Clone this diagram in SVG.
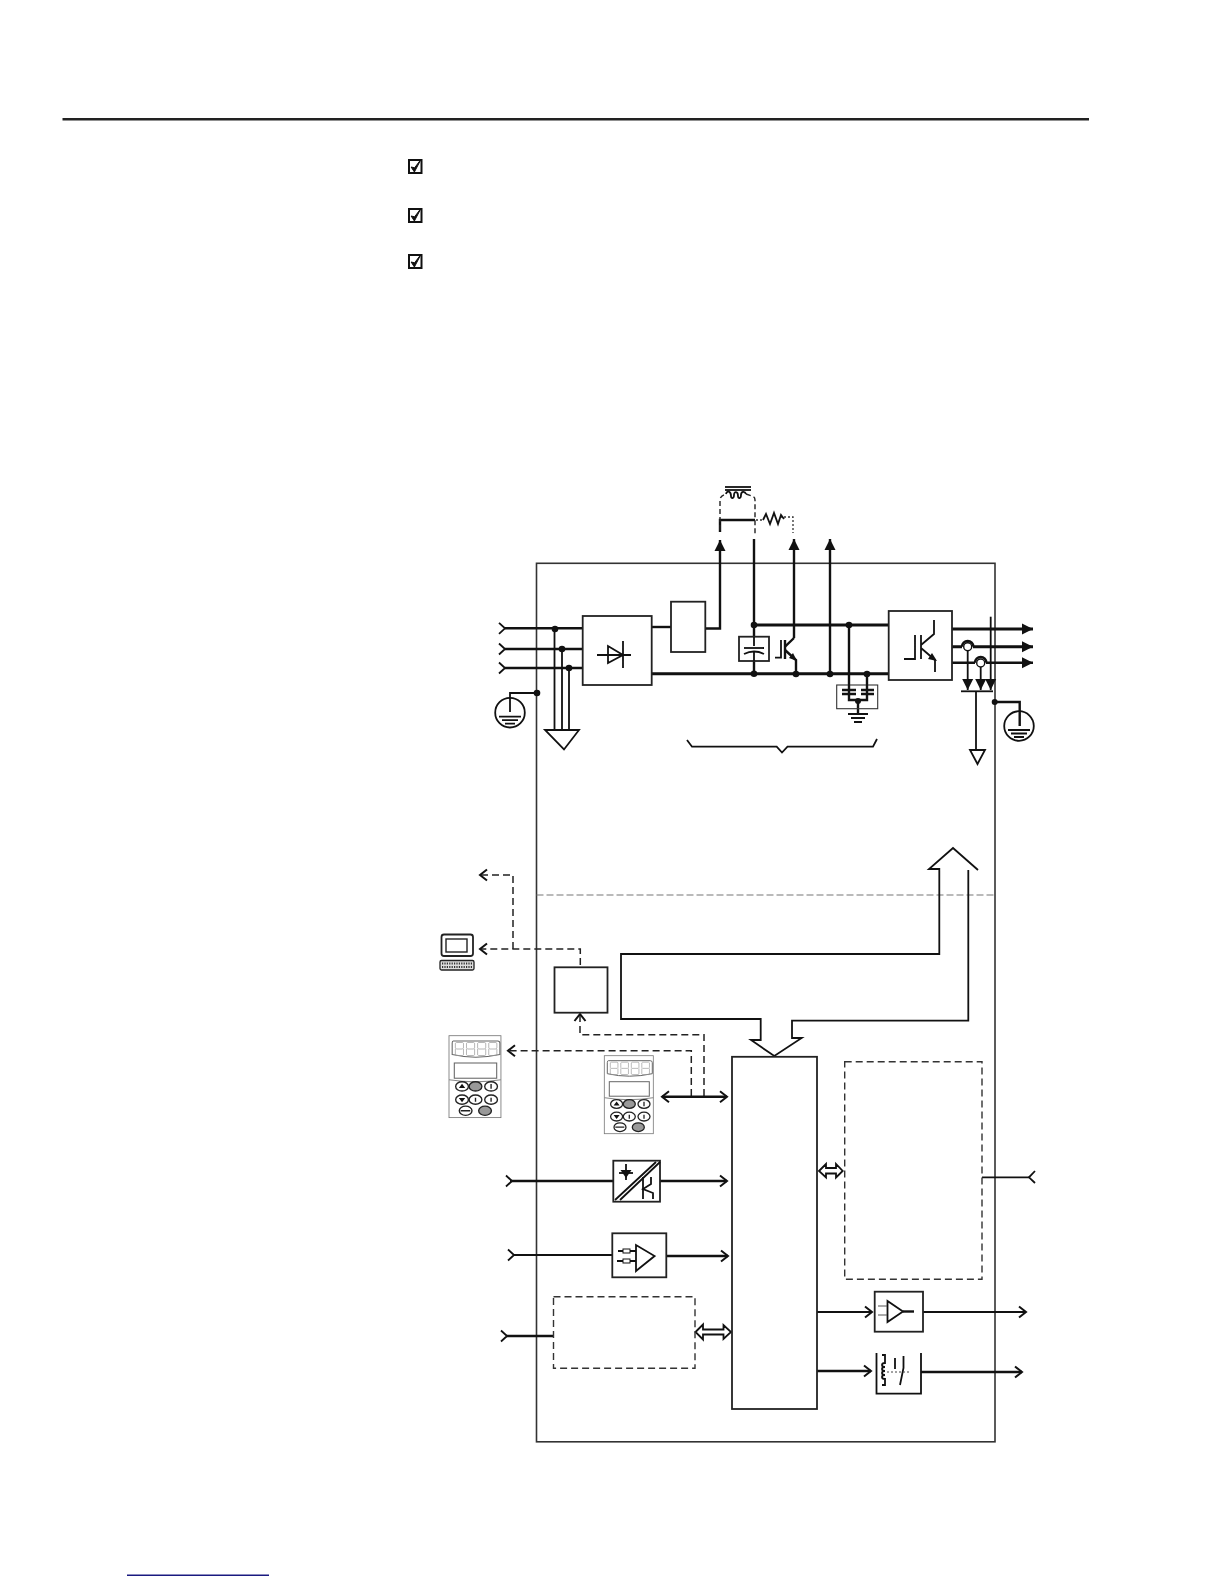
<svg xmlns="http://www.w3.org/2000/svg" xmlns:xlink="http://www.w3.org/1999/xlink" width="1224" height="1584" viewBox="0 0 1224 1584">
<style>
.l{fill:none;stroke:#111;stroke-width:1.8}
.t{fill:none;stroke:#111;stroke-width:2.4}
.h{fill:none;stroke:#111;stroke-width:3}
.b{fill:#fff;stroke:#222;stroke-width:1.8}
.d{fill:none;stroke:#222;stroke-width:1.5;stroke-dasharray:7 4}
.f{fill:#111;stroke:none}
.hollow{fill:#fff;stroke:#111;stroke-width:1.8}
</style>
<defs>
<marker id="tri" markerUnits="userSpaceOnUse" markerWidth="14" markerHeight="12" refX="11" refY="6" orient="auto"><path d="M0 0.5L11 6L0 11.5Z" fill="#111"/></marker>
<marker id="open" markerUnits="userSpaceOnUse" markerWidth="14" markerHeight="14" refX="10" refY="7" orient="auto"><path d="M3 1.5L10 7L3 12.5" fill="none" stroke="#111" stroke-width="2"/></marker>
<marker id="openS" markerUnits="userSpaceOnUse" markerWidth="14" markerHeight="14" refX="10" refY="7" orient="auto-start-reverse"><path d="M3 1.5L10 7L3 12.5" fill="none" stroke="#111" stroke-width="2"/></marker>
<g id="gnd"><circle cx="0" cy="0" r="14.8" class="l"/><path class="l" d="M-11 4H11M-8 7.5H8M-5 11H5"/></g>
<g id="chev"><path class="l" d="M0 -5.5L6 0L0 5.5" stroke-width="2"/></g>
<g id="dig"><path d="M1 0H8L9 1V8L8 9.5H1L0 8V1ZM0 9.5V18L1 19H8L9 18V9.5" fill="none" stroke="#999" stroke-width="0.9"/></g>
<g id="keypad">
<rect x="0" y="0" width="49" height="78" fill="#fff" stroke="#777" stroke-width="0.8"/>
<path d="M4 5H46Q48 5 48 7V18Q25 23 3 18V7Q3 5 4 5Z" fill="#fff" stroke="#666" stroke-width="1"/>
<use href="#dig" transform="translate(6 6.5) scale(0.85 0.65)"/><use href="#dig" transform="translate(16.5 6.5) scale(0.85 0.65)"/><use href="#dig" transform="translate(27 6.5) scale(0.85 0.65)"/><use href="#dig" transform="translate(37.5 6.5) scale(0.85 0.65)"/>
<rect x="5" y="26" width="40" height="14.5" fill="#fff" stroke="#666" stroke-width="1"/>
<path d="M0 42Q25 46 49 42" fill="none" stroke="#888" stroke-width="1"/>
<g fill="#fff" stroke="#222" stroke-width="1.3">
<ellipse cx="12.3" cy="48.3" rx="6" ry="4.4"/><ellipse cx="25" cy="48.3" rx="6" ry="4.4" fill="#999"/><ellipse cx="39.7" cy="48.3" rx="6" ry="4.4"/>
<ellipse cx="12.3" cy="60.9" rx="6" ry="4.4"/><ellipse cx="25" cy="60.9" rx="6" ry="4.4"/><ellipse cx="39.7" cy="60.9" rx="6" ry="4.4"/>
<ellipse cx="15.7" cy="71.5" rx="6" ry="4.4"/><ellipse cx="34" cy="71.5" rx="6" ry="4.4" fill="#999"/></g>
<path class="f" d="M12.3 45.8l3 4h-6zM12.3 63.4l3-4h-6z"/><path stroke="#222" stroke-width="1.3" d="M39.7 46v4.6M25 59v4M39.7 59v4M11 71.5h9"/>
</g>
<path id="chk" d="M2.5 7L5.8 12L12.5 -0.8L6 7.8Z" fill="#111" stroke="#111"/>
</defs>

<g id="page-rules">
<rect x="0" y="0" width="1224" height="1584" fill="#fff"/>
<path d="M62.5 119.2H1089" stroke="#222" stroke-width="2.4" fill="none"/>
<path d="M127 1575.3H269" stroke="#1a1a80" stroke-width="1.6" fill="none"/>
</g>
<g id="checkboxes">
<g id="check-1"><rect x="409" y="160" width="12.5" height="13" fill="#fff" stroke="#111" stroke-width="2"/><use href="#chk" transform="translate(408.6 160)"/></g>
<g id="check-2"><rect x="409" y="209" width="12.5" height="13" fill="#fff" stroke="#111" stroke-width="2"/><use href="#chk" transform="translate(408.6 209)"/></g>
<g id="check-3"><rect x="409" y="255" width="12.5" height="13" fill="#fff" stroke="#111" stroke-width="2"/><use href="#chk" transform="translate(408.6 255)"/></g>
</g>

<g id="enclosure">
<rect x="536.5" y="563.3" width="458.5" height="878.5" fill="none" stroke="#333" stroke-width="1.6"/>
<path d="M536.5 895H995" fill="none" stroke="#777" stroke-width="1.1" stroke-dasharray="7 3"/>
</g>

<g id="connectors">
<path class="t" d="M505 628.3H583M505 649H583M505 668H583"/>
<use href="#chev" transform="translate(499 628.3)"/><use href="#chev" transform="translate(499 649)"/><use href="#chev" transform="translate(499 668)"/>
<path class="l" d="M554.5 629V730M562 649V730M569 668V730"/>
<path class="l" d="M537 693H510V712"/>
<path class="t" d="M652 627H671"/>
<path class="t" d="M705 628.5H720V540" marker-end="url(#tri)"/>
<path class="h" d="M652 673.7H889M754 625H889"/>
<path class="t" d="M754 539V673.7"/>
<path class="t" d="M794 638V539" marker-end="url(#tri)"/>
<path class="t" d="M830 674V539" marker-end="url(#tri)"/>
<path class="t" d="M849 625V700H867V674"/>
<path class="t" d="M858 701V713"/>
<path class="t" d="M720 532V520H755"/>
<path d="M720 530V500Q720 496 726 494" fill="none" stroke="#222" stroke-width="1.4" stroke-dasharray="5 3"/>
<path d="M746 494L752 496Q755 497 755 500V534" fill="none" stroke="#222" stroke-width="1.4" stroke-dasharray="5 3"/>
<path d="M756 520H764M780 517H793V533" fill="none" stroke="#333" stroke-width="1.3" stroke-dasharray="2 2"/>
<path class="l" d="M763 520L766 514L770 524L774 513L778 524L781 515L784 519"/>
<path class="l" d="M725 487H751" stroke-width="1.4"/><path class="l" d="M725 490H751" stroke-width="1.4"/>
<path class="l" d="M726 494C727 490 731 491 731 496C731 499 734 499 734 495C734 491 738 491 738 496C738 499 741 499 741 495C741 491 745 491 746 494" stroke-width="1.2"/>
<path class="h" d="M952 629H1033" marker-end="url(#tri)"/>
<path class="h" d="M952 646.7H962M973 646.7H1033" marker-end="url(#tri)"/>
<path class="t" d="M952 662.7H975M986 662.7H1033" marker-end="url(#tri)"/>
<path class="l" d="M967.7 647V690" marker-end="url(#tri)"/>
<path class="l" d="M980.7 663V690" marker-end="url(#tri)"/>
<path class="l" d="M990.7 616.7V690" marker-end="url(#tri)"/>
<path class="l" d="M961 691.3H993"/>
<path class="l" d="M976 691.3V750"/>
<path class="t" d="M995 702H1019.7V726"/>
<path class="l" d="M687 740L692 746.7H776.7L782 752.5L787.5 746.7H873L877 739"/>
<path class="d" d="M513 949V875H480" marker-end="url(#openS)"/>
<path class="d" d="M580.3 965V949H480" marker-end="url(#openS)"/>
<path class="d" d="M704 1096V1034.7H580V1014" marker-end="url(#openS)"/>
<path class="d" d="M691.3 1096V1050.7H508" marker-end="url(#openS)"/>
<path class="t" d="M662 1096.7H727" marker-start="url(#openS)" marker-end="url(#openS)"/>
<path class="t" d="M510 1181H613"/><use href="#chev" transform="translate(506 1181)"/>
<path class="t" d="M660 1181H727" marker-end="url(#open)"/>
<path class="l" d="M513 1255H612"/><use href="#chev" transform="translate(508 1255)"/>
<path class="t" d="M655 1256H728" marker-end="url(#open)"/>
<path class="t" d="M506 1336H553"/><use href="#chev" transform="translate(501 1336)"/>
<path class="l" d="M817 1312H872" marker-end="url(#open)"/>
<path class="t" d="M817 1371H871" marker-end="url(#open)"/>
<path class="l" d="M923 1312H1026" marker-end="url(#open)"/>
<path class="t" d="M921 1372H1022" marker-end="url(#open)"/>
<path class="l" d="M982 1177.3H1030"/><path class="l" stroke-width="2" d="M1035 1171L1029 1177.3L1035 1183"/>
<path class="hollow" d="M695.5 1332L703 1324.5V1329.5H723.5V1325L731 1332L723.5 1339V1334.5H703V1339.5Z"/>
<path class="hollow" d="M819 1171L826 1164V1168H836V1164L842.7 1171L836 1177.5V1173.5H826V1177.5Z"/>
<path class="l" d="M978 870L953 848L929 869H939.3V954H621V1019H760.7V1040H751L774.3 1056L801.7 1038H792V1020.7H968.3V870" stroke-linejoin="miter"/>
<g class="f">
<circle cx="555" cy="629" r="3.3"/><circle cx="562" cy="649" r="3.3"/><circle cx="569" cy="668" r="3.3"/><circle cx="537" cy="693" r="3.3"/>
<circle cx="754" cy="625" r="3.3"/><circle cx="754" cy="673.7" r="3.3"/><circle cx="796" cy="674" r="3.3"/><circle cx="830" cy="674" r="3.3"/><circle cx="849" cy="625" r="3.3"/><circle cx="867" cy="674" r="3.3"/><circle cx="858" cy="701" r="3"/><circle cx="994.7" cy="702" r="3"/>
</g>
</g>

<g id="mains-earth"><use href="#gnd" transform="translate(510 712.7)"/></g>
<g id="mains-pe"><path class="l" d="M545 730H579L564 749.5Z" stroke-width="2"/></g>
<g id="motor-earth"><use href="#gnd" transform="translate(1019 726)"/></g>
<g id="output-pe"><path class="l" d="M970 750H985L977.5 764Z"/></g>

<g id="rectifier">
<rect class="b" x="582.7" y="616" width="69" height="69"/>
<path class="l" d="M597 655H631M623 641V668M608 646V663L623 655Z" stroke-width="1.8"/>
</g>
<g id="choke-box"><rect class="b" x="671" y="601.7" width="34.3" height="50.3" stroke="#555"/></g>
<g id="dc-capacitor">
<rect class="b" x="739" y="636.7" width="30" height="24.3" stroke="#555"/>
<path class="l" d="M754 637V646M754 652V661"/>
<path class="l" d="M744 648H764" stroke-width="1.8"/><path class="l" d="M744 654Q754 649 764 654" stroke-width="1.8"/>
</g>
<g id="brake-chopper">
<path class="l" d="M775 657.7H781V640" stroke-width="1.8"/>
<path class="t" d="M785 640V659"/>
<path class="t" d="M785 646.7L794 638M785 650L796 660V674"/>
<path class="f" d="M797 661L789 658L793 653Z"/>
</g>
<g id="emc-filter">
<rect x="836.7" y="685" width="41" height="23.7" fill="none" stroke="#333" stroke-width="1.1"/>
<path class="t" d="M842 690H856M842 694H856M861 690H874M861 694H874"/>
<path class="l" d="M849 625V690M867 674V690" stroke-width="2"/>
<path class="l" d="M848 714H868M851 718H865M854 722H862" stroke-width="1.4"/>
</g>
<g id="inverter">
<rect class="b" x="888.7" y="611" width="63.3" height="69" stroke-width="1.9"/>
<path class="l" d="M904 659H915V635M921 635V659M921 645L934 634V620M921 648L935 660V672" stroke="#333"/>
<path class="f" d="M937 661L928 659L932 653Z"/>
</g>
<g id="current-sensors">
<circle cx="967.7" cy="646.7" r="4" fill="#fff" stroke="#111" stroke-width="1.4"/>
<circle cx="980.7" cy="663" r="4" fill="#fff" stroke="#111" stroke-width="1.4"/>
<path class="t" d="M962 646.7A5.7 5.7 0 0 1 973.4 646.7M975 662.7A5.7 5.7 0 0 1 986.4 662.7"/>
</g>
<g id="pc">
<rect x="441.5" y="934.5" width="31.5" height="21.5" rx="2.5" fill="#fff" stroke="#222" stroke-width="1.8"/>
<rect x="446" y="939" width="21" height="13" fill="#fff" stroke="#222" stroke-width="1.4"/>
<rect x="440" y="960.5" width="34" height="9.5" rx="1.5" fill="#ddd" stroke="#222" stroke-width="1.3"/>
<path d="M442 963.5H472M442 967H472" stroke="#333" stroke-width="1.8" stroke-dasharray="1.2 1.2" fill="none"/>
</g>
<g id="remote-keypad"><use href="#keypad" transform="translate(449 1035.7) scale(1.06 1.05)"/></g>
<g id="local-keypad"><use href="#keypad" transform="translate(604.3 1055.7)"/></g>
<g id="comm-box"><rect class="b" x="554.5" y="967.3" width="53" height="45.4" stroke="#111"/></g>
<g id="controller"><rect class="b" x="732" y="1056.8" width="85" height="352.2" stroke="#111" stroke-width="2.2"/></g>
<g id="opto">
<rect class="b" x="613.3" y="1160.7" width="46.7" height="41" stroke="#111"/>
<path class="l" d="M615 1200L656 1162M620 1200L660 1162"/>
<path class="l" d="M619 1173H633" stroke-width="1.8"/><path class="l" d="M626 1164V1180"/><path class="f" d="M620.5 1170H631.5L626 1178Z"/>
<path class="l" d="M643 1177V1199" stroke-width="2"/><path class="l" d="M651 1177V1184L643 1189L653 1193V1199"/>
</g>
<g id="analog-input">
<rect class="b" x="612.3" y="1233.3" width="54" height="44" stroke="#111"/>
<path class="l" d="M636 1245V1271L654.6 1256Z" stroke-width="1.8"/>
<rect x="623" y="1249" width="7" height="4" fill="#fff" stroke="#111"/><rect x="623" y="1259" width="7" height="4" fill="#fff" stroke="#111"/>
<path class="l" d="M618 1251H623M630 1251H636M617 1261H623M630 1261H636"/>
</g>
<g id="option-box-left"><rect x="553.5" y="1296.7" width="141.5" height="71.6" fill="none" stroke="#333" stroke-width="1.4" stroke-dasharray="7 4"/></g>
<g id="option-box-right"><rect x="844.7" y="1061.7" width="137.3" height="217.6" fill="none" stroke="#333" stroke-width="1.4" stroke-dasharray="7 4"/></g>
<g id="analog-output">
<rect class="b" x="874.7" y="1291.7" width="48.3" height="40" stroke="#111"/>
<path class="l" d="M887.5 1301V1322L903 1311.5Z" stroke-width="1.8"/>
<path class="t" d="M903 1311.5H914"/>
<path d="M878 1306H887M878 1315H887" stroke="#555" stroke-width="1" fill="none"/>
</g>
<g id="relay">
<path class="l" d="M876.5 1353V1393.7H921V1353"/>
<path class="l" d="M882 1355H885V1363C881 1363 881 1367 885 1367C881 1367 881 1371 885 1371C881 1371 881 1375 885 1375C881 1375 881 1379 885 1379V1385H882" stroke-width="1.2"/>
<path class="l" d="M895 1358V1369M903.5 1356V1368L900 1385" stroke-width="1.3"/>
<path d="M887 1372H909" fill="none" stroke="#444" stroke-width="1" stroke-dasharray="2 2"/>
</g>
</svg>
